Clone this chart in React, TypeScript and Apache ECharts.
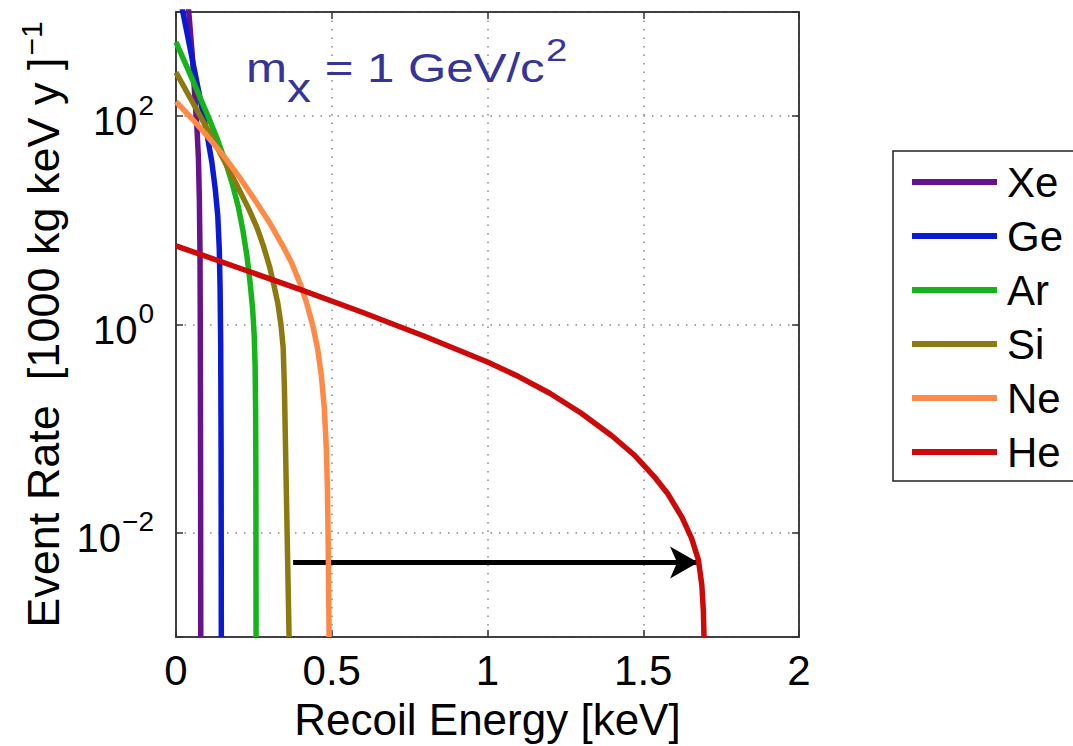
import React, { useEffect, useRef } from "react";
import * as echarts from "echarts";

const FONT = "'Liberation Sans', Arial, Helvetica, sans-serif";

const elements = ["Xe", "Ge", "Ar", "Si", "Ne", "He"];
const colors = ["#66118f", "#0a1ad0", "#14b41a", "#8c7a10", "#ff8a45", "#cc0a0a"];

// Recoil energy [keV] and event rate [1000 kg keV y]^-1
const xeE = [0, 0.02, 0.041, 0.052, 0.061, 0.067, 0.072, 0.075, 0.077, 0.078, 0.079, 0.0795];
const xeR = [39811, 5012, 1000, 398, 144.5, 79.4, 39.8, 15.85, 5.01, 1, 0.0316, 0.001];

const geE = [0, 0.022, 0.05, 0.08, 0.1, 0.115, 0.126, 0.134, 0.139, 0.1415, 0.1435, 0.1448, 0.1455];
const geR = [2291, 1000, 380, 134.9, 66.1, 36.3, 19.95, 11.2, 5.25, 2.24, 0.631, 0.0631, 0.001];

const arE = [0, 0.05, 0.1, 0.13, 0.16, 0.18, 0.2, 0.215, 0.228, 0.238, 0.246, 0.251, 0.254, 0.2555, 0.2565, 0.257];
const arR = [512.9, 234.4, 104.7, 63.1, 35.5, 22.9, 13.49, 7.94, 4.47, 2.51, 1.413, 0.794, 0.398, 0.1585, 0.0316, 0.001];

const siE = [0, 0.05, 0.1, 0.15, 0.2, 0.235, 0.26, 0.28, 0.3, 0.315, 0.327, 0.337, 0.344, 0.348, 0.353, 0.358, 0.363];
const siR = [263, 141.3, 75.9, 39.8, 20.4, 12.6, 8.51, 5.75, 3.63, 2.34, 1.585, 1, 0.603, 0.251, 0.0398, 0.00631, 0.001];

const neE = [0, 0.05, 0.1, 0.15, 0.2, 0.25, 0.3, 0.34, 0.37, 0.4, 0.42, 0.44, 0.455, 0.467, 0.476, 0.482, 0.486, 0.489, 0.4915];
const neR = [138, 95.5, 64.6, 42.7, 26.9, 16.2, 9.55, 5.89, 3.98, 2.4, 1.585, 0.955, 0.575, 0.316, 0.158, 0.0708, 0.0282, 0.00631, 0.001];

const heE = [0, 0.2, 0.4, 0.6, 0.8, 1.0, 1.1, 1.2, 1.3, 1.4, 1.47, 1.535, 1.58, 1.624, 1.655, 1.677, 1.688, 1.693, 1.695];
const heR = [5.69, 3.508, 2.163, 1.303, 0.767, 0.4365, 0.3162, 0.2188, 0.1413, 0.0851, 0.0562, 0.0347, 0.02344, 0.01413, 0.00891, 0.0055, 0.00316, 0.00178, 0.001];

const energies = [xeE, geE, arE, siE, neE, heE];
const rates = [xeR, geR, arR, siR, neR, heR];

// arrow: from Si cutoff to He cutoff
const arrowStart = [0.376, 0.0052];
const arrowEnd = [1.676, 0.0052];

const xTicks = ["0", "0.5", "1", "1.5", "2"];

export default function App() {
  const ref = useRef<HTMLDivElement>(null);
  useEffect(() => {
    document.body.style.margin = "0";
    const chart = echarts.init(ref.current!, null, { renderer: "svg" });
    const axisLineStyle = { color: "#333", width: 1.5 };
    const blue = "#34349a";
    const series: any[] = elements.map((name, i) => ({
      name,
      type: "line",
      symbol: "none",
      clip: true,
      lineStyle: { color: colors[i], width: 5.5, join: "round" },
      itemStyle: { color: colors[i] },
      data: energies[i].map((e, j) => [e, rates[i][j]]),
      z: 2 + i,
    }));
    series[5].markLine = {
      silent: true,
      symbol: ["none", "arrow"],
      symbolSize: [24, 28],
      lineStyle: { color: "#000", width: 5, type: "solid" },
      label: { show: false },
      data: [[{ coord: arrowStart }, { coord: arrowEnd }]],
    };
    const option: any = {
      animation: false,
      backgroundColor: "#fff",
      textStyle: { fontFamily: FONT },
      grid: {
        left: 176,
        top: 12,
        width: 623,
        height: 629,
        show: true,
        borderColor: "#333",
        borderWidth: 1.5,
      },
      legend: {
        orient: "vertical",
        left: 893,
        top: 151,
        data: elements.map((n) => ({ name: n, icon: "rect" })),
        itemWidth: 85,
        itemHeight: 6,
        itemGap: 10,
        padding: [9, 200, 7, 19],
        borderColor: "#222",
        borderWidth: 1.5,
        backgroundColor: "#fff",
        textStyle: { color: "#000", fontSize: 42, fontFamily: FONT, lineHeight: 44, padding: [0, 0, 0, 5] },
      },
      xAxis: [
        {
          type: "value",
          min: 0,
          max: 2,
          interval: 0.5,
          position: "bottom",
          axisLine: { show: true, onZero: false, lineStyle: axisLineStyle },
          axisTick: { show: true, inside: true, length: 7, lineStyle: axisLineStyle },
          axisLabel: {
            color: "#000",
            fontSize: 42,
            fontFamily: FONT,
            margin: 12,
            formatter: (v: number) => xTicks[Math.round(v * 2)] ?? "",
          },
          splitLine: { show: true, lineStyle: { color: "#888", type: [1.5, 7], width: 1.5 } },
          name: "Recoil Energy [keV]",
          nameLocation: "middle",
          nameGap: 60,
          nameTextStyle: { color: "#000", fontSize: 44, fontFamily: FONT },
        },
        {
          type: "value",
          min: 0,
          max: 2,
          interval: 0.5,
          position: "top",
          axisLine: { show: true, onZero: false, lineStyle: axisLineStyle },
          axisTick: { show: true, inside: true, length: 7, lineStyle: axisLineStyle },
          axisLabel: { show: false },
          splitLine: { show: false },
        },
      ],
      yAxis: [
        {
          type: "log",
          logBase: 100,
          min: 0.001,
          max: 1000,
          splitNumber: 3,
          position: "left",
          axisLine: { show: true, onZero: false, lineStyle: axisLineStyle },
          axisTick: { show: true, inside: true, length: 7, lineStyle: axisLineStyle },
          axisLabel: {
            color: "#000",
            fontFamily: FONT,
            margin: 22,
            formatter: (v: number) => {
              const e = Math.round(Math.log10(v));
              if (Math.abs(e) % 2 === 1) return "";
              return `{b|10}{s|${e < 0 ? "−" : ""}${Math.abs(e)}}`;
            },
            rich: {
              b: { fontSize: 40, fontFamily: FONT, color: "#000", verticalAlign: "bottom" },
              s: { fontSize: 28, fontFamily: FONT, color: "#000", verticalAlign: "bottom", padding: [0, 0, 22, 1] },
            },
          },
          splitLine: { show: true, lineStyle: { color: "#888", type: [1.5, 7], width: 1.5 } },
          name: "Event Rate  [1000 kg keV y ]{s|−1}",
          nameLocation: "middle",
          nameRotate: 90,
          nameGap: 106,
          nameTextStyle: {
            color: "#000",
            fontSize: 45,
            fontFamily: FONT,
            verticalAlign: "bottom",
            rich: {
              s: { fontSize: 30, fontFamily: FONT, color: "#000", verticalAlign: "bottom", padding: [0, 0, 24, 2] },
            },
          },
        },
        {
          type: "log",
          logBase: 100,
          min: 0.001,
          max: 1000,
          splitNumber: 3,
          position: "right",
          axisLine: { show: true, onZero: false, lineStyle: axisLineStyle },
          axisTick: { show: true, inside: true, length: 7, lineStyle: axisLineStyle },
          axisLabel: { show: false },
          splitLine: { show: false },
        },
      ],
      graphic: [
        {
          type: "text",
          x: 246,
          y: 34,
          scaleX: 1.2,
          z: 100,
          style: {
            text: "{m|m}{sub|x}{t| = 1 GeV/c}{sup|2}",
            rich: {
              m: { fontSize: 41, fontFamily: FONT, fill: blue, verticalAlign: "bottom", padding: [0, 0, 20, 0] },
              sub: { fontSize: 40, fontFamily: FONT, fill: blue, verticalAlign: "bottom", padding: [0, 0, 0, 0] },
              t: { fontSize: 41, fontFamily: FONT, fill: blue, verticalAlign: "bottom", padding: [0, 0, 20, 0] },
              sup: { fontSize: 32, fontFamily: FONT, fill: blue, verticalAlign: "bottom", padding: [0, 0, 42, 1] },
            },
          },
        },
      ],
      series,
    };
    chart.setOption(option);
    return () => chart.dispose();
  }, []);
  return <div ref={ref} style={{ width: 1073, height: 746 }} />;
}
